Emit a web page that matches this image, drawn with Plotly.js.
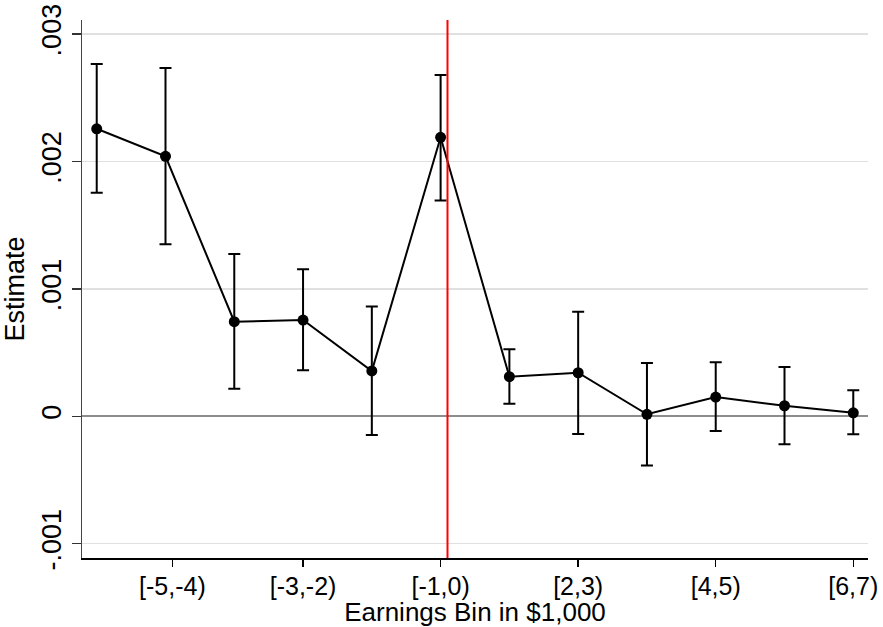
<!DOCTYPE html>
<html>
<head>
<meta charset="utf-8">
<script src="https://cdn.plot.ly/plotly-3.0.1.min.js"></script>
<style>
  html, body { margin: 0; padding: 0; background: #fff; }
  #chart { width: 883px; height: 627px; }
</style>
</head>
<body>
<div id="chart"></div>
<script>
// Earnings bins (in $1,000); [0,1) is the omitted reference bin
const bins = ["[-6,-5)", "[-5,-4)", "[-4,-3)", "[-3,-2)", "[-2,-1)", "[-1,0)",
              "[1,2)", "[2,3)", "[3,4)", "[4,5)", "[5,6)", "[6,7)"];
const estimate = [0.002257, 0.002041, 0.000743, 0.000756, 0.000356, 0.002190,
                  0.000311, 0.000342, 0.000016, 0.000151, 0.000083, 0.000028];
const ciHigh   = [0.002765, 0.002734, 0.001274, 0.001154, 0.000863, 0.002679,
                  0.000526, 0.000821, 0.000418, 0.000424, 0.000387, 0.000204];
const ciLow    = [0.001755, 0.001350, 0.000217, 0.000362, -0.000147, 0.001695,
                  0.000099, -0.000139, -0.000385, -0.000115, -0.000220, -0.000141];
const yTickVals = [-0.001, 0, 0.001, 0.002, 0.003];
const yTickText = ["-.001", "0", ".001", ".002", ".003"];
const xTickLabels = ["[-5,-4)", "[-3,-2)", "[-1,0)", "[2,3)", "[4,5)", "[6,7)"];

const xIdx = bins.map((b, i) => i + 1);
const xTickVals = xTickLabels.map(l => bins.indexOf(l) + 1);
xTickVals[0] += 0.1;

const FONT = "Liberation Sans, Arial, sans-serif";

const trace = {
  type: "scatter",
  mode: "lines+markers",
  x: xIdx,
  y: estimate,
  text: bins,
  line: { color: "#000", width: 2 },
  marker: { color: "#000", size: 11 },
  error_y: {
    type: "data",
    symmetric: false,
    array: ciHigh.map((h, i) => h - estimate[i]),
    arrayminus: estimate.map((e, i) => e - ciLow[i]),
    color: "#000",
    thickness: 2,
    width: 6
  },
  hoverinfo: "text+y",
  showlegend: false
};

const layout = {
  width: 883,
  height: 627,
  paper_bgcolor: "#fff",
  plot_bgcolor: "#fff",
  margin: { l: 82, r: 15, t: 20, b: 69 },
  font: { family: FONT, color: "#000" },
  xaxis: {
    range: [0.786, 12.214],
    tickmode: "array",
    tickvals: xTickVals,
    ticktext: xTickLabels,
    ticks: "outside",
    ticklen: 7,
    tickwidth: 1.5,
    tickcolor: "#000",
    ticklabelstandoff: -2,
    tickfont: { size: 25, family: FONT, color: "#000" },
    showgrid: false,
    zeroline: false,
    showline: true,
    linecolor: "#000",
    linewidth: 1.5,
    title: { text: "Earnings Bin in $1,000", font: { size: 26, family: FONT, color: "#000" }, standoff: 0 },
    automargin: false
  },
  yaxis: {
    range: [-0.001112, 0.003111],
    tickmode: "array",
    tickvals: yTickVals,
    ticktext: yTickText,
    tickangle: -90,
    ticks: "outside",
    ticklen: 9,
    tickwidth: 1.5,
    tickcolor: "#333",
    tickfont: { size: 27, family: FONT, color: "#000" },
    showgrid: true,
    gridcolor: "#e0e0e0",
    gridwidth: 1.5,
    zeroline: true,
    zerolinecolor: "#8c8c8c",
    zerolinewidth: 2,
    showline: true,
    linecolor: "#444",
    linewidth: 1.5,
    title: { text: "Estimate", font: { size: 27, family: FONT, color: "#000" }, standoff: 4 },
    automargin: false
  },
  shapes: [{
    type: "line",
    xref: "x",
    yref: "paper",
    x0: 6.1, x1: 6.1,
    y0: 0, y1: 1,
    line: { color: "#ff0000", width: 2 },
    layer: "above"
  }]
};

Plotly.newPlot("chart", [trace], layout, { displayModeBar: false, staticPlot: true });
</script>
</body>
</html>
